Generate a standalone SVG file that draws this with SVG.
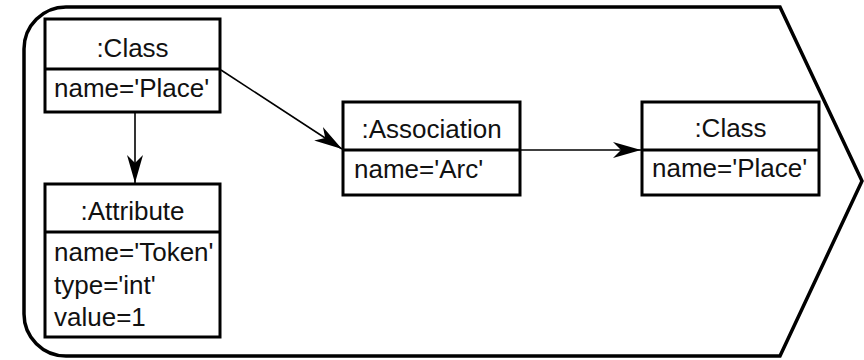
<svg xmlns="http://www.w3.org/2000/svg" width="864" height="360" viewBox="0 0 864 360">
<style>
.box{fill:#fff;stroke:#000;stroke-width:3}
.div{stroke:#000;stroke-width:3}
.t{font-family:"Liberation Sans",Arial,sans-serif;font-size:26px;fill:#111}
.c{text-anchor:middle}
.edge{stroke:#000;stroke-width:1.6;fill:none}
</style>
<defs>
<marker id="arr" viewBox="0 0 28 16" refX="28" refY="8" markerWidth="28" markerHeight="16" markerUnits="userSpaceOnUse" orient="auto">
<path d="M0,0 L28,8 L0,16 L8,8 Z" fill="#000"/>
</marker>
</defs>
<path id="frame" d="M66,7 L780,7 L862,181 L780,356 L66,356 A42,42 0 0 1 24,314 L24,49 A42,42 0 0 1 66,7 Z" fill="#fff" stroke="#000" stroke-width="3.5"/>
<g id="connectors">
<line class="edge" x1="135" y1="113" x2="135" y2="183" marker-end="url(#arr)"/>
<line class="edge" x1="221" y1="70" x2="342" y2="149" marker-end="url(#arr)"/>
<line class="edge" x1="521" y1="150" x2="641" y2="150" marker-end="url(#arr)"/>
</g>
<g id="class1">
<rect class="box" x="45" y="19" width="175" height="93"/>
<line class="div" x1="45" y1="69" x2="220" y2="69"/>
<text class="t c" x="132.5" y="57">:Class</text>
<text class="t" x="54" y="97">name='Place'</text>
</g>
<g id="attribute">
<rect class="box" x="45" y="184" width="175" height="153"/>
<line class="div" x1="45" y1="232" x2="220" y2="232"/>
<text class="t c" x="132.5" y="220">:Attribute</text>
<text class="t" x="54" y="261">name='Token'</text>
<text class="t" x="54" y="294">type='int'</text>
<text class="t" x="54" y="326">value=1</text>
</g>
<g id="association">
<rect class="box" x="343" y="102" width="177" height="93"/>
<line class="div" x1="343" y1="150" x2="520" y2="150"/>
<text class="t c" x="431.5" y="138">:Association</text>
<text class="t" x="354" y="178">name='Arc'</text>
</g>
<g id="class2">
<rect class="box" x="642" y="102" width="177" height="93"/>
<line class="div" x1="642" y1="150" x2="819" y2="150"/>
<text class="t c" x="730.5" y="137">:Class</text>
<text class="t" x="652" y="177">name='Place'</text>
</g>
</svg>
